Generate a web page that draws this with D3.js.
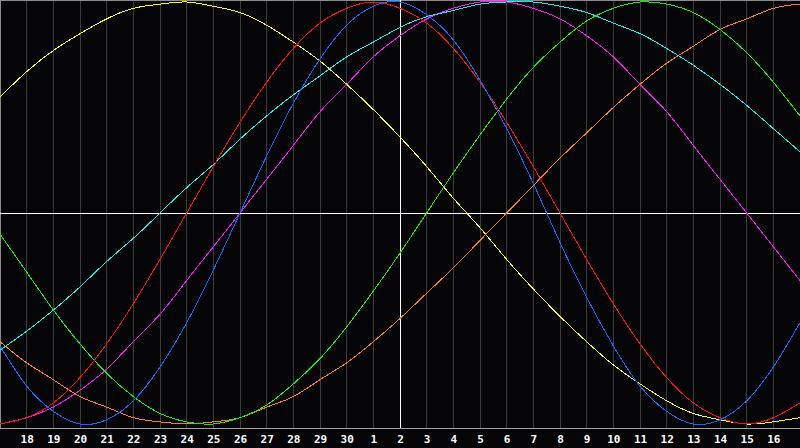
<!DOCTYPE html>
<html><head><meta charset="utf-8">
<script src="https://cdn.jsdelivr.net/npm/d3@7"></script>
<style>
html,body{margin:0;padding:0;background:#050507;}
svg{display:block;}
</style></head>
<body>
<svg id="c" width="800" height="448"></svg>
<script>
// Day labels (x=0 is day 17 of the previous month, x=800 is day 17)
const days = [17,18,19,20,21,22,23,24,25,26,27,28,29,30,1,2,3,4,5,6,7,8,9,10,11,12,13,14,15,16,17];
const todayIndex = 15; // day "2"

// Series values (percent, -100..100), one per day
const physical     = [-63,-82,-94,-100,-98,-89,-73,-52,-27,0,27,52,73,89,98,100,94,82,63,40,14,-14,-40,-63,-82,-94,-100,-98,-89,-73,-52];
const emotional    = [-100,-97,-90,-78,-62,-43,-22,0,22,43,62,78,90,97,100,97,90,78,62,43,22,0,-22,-43,-62,-78,-90,-97,-100,-97,-90];
const intellectual = [-10,-28,-46,-62,-76,-87,-95,-99,-100,-97,-91,-81,-69,-54,-37,-19,0,19,37,54,69,81,91,97,100,99,95,87,76,62,46];
const intuitive    = [-100,-97,-92,-84,-74,-61,-48,-32,-16,0,16,32,48,61,74,84,92,97,100,100,97,92,84,74,61,48,32,16,0,-16,-32];
const aesthetic    = [55,67,77,85,92,97,99,100,98,95,89,81,72,61,49,36,22,7,-7,-22,-36,-49,-61,-72,-81,-89,-95,-98,-100,-99,-97];
const awareness    = [-61,-71,-79,-87,-92,-97,-99,-100,-99,-97,-92,-87,-79,-71,-61,-50,-38,-26,-13,0,13,26,38,50,61,71,79,87,92,97,99];
const spiritual    = [-65,-56,-46,-35,-23,-12,0,12,23,35,46,56,65,74,81,88,93,96,99,100,100,98,95,90,85,78,70,61,51,40,29];

const seriesNames  = ["intuitive","aesthetic","awareness","spiritual","intellectual","emotional","physical"];
const seriesValues = [intuitive, aesthetic, awareness, spiritual, intellectual, emotional, physical];
const seriesColors = ["#ff10ff","#ffff10","#ff8010","#10f0f0","#10f010","#ff1010","#1468ff"];

const W = 800, H = 448;
const plotBottom = 428;
const svg = d3.select("#c");

const x = d3.scaleLinear().domain([0, days.length - 1]).range([0, W]);
const y = d3.scaleLinear().domain([-100, 100]).range([424, 2]);

svg.append("rect").attr("width", W).attr("height", H).attr("fill", "#050507");

// vertical day grid
svg.append("g").selectAll("line").data(d3.range(1, days.length - 1)).join("line")
  .attr("x1", i => Math.floor(x(i)) + 0.5).attr("x2", i => Math.floor(x(i)) + 0.5)
  .attr("y1", 0).attr("y2", plotBottom)
  .attr("stroke", "#3c3c3c").attr("stroke-width", 1)
  .attr("shape-rendering", "crispEdges");

// border (top, left) and axis line
svg.append("line").attr("x1", 0).attr("x2", W).attr("y1", 0.5).attr("y2", 0.5)
  .attr("stroke", "#8c8c8c").attr("shape-rendering", "crispEdges");
svg.append("line").attr("x1", 0.5).attr("x2", 0.5).attr("y1", 0).attr("y2", plotBottom)
  .attr("stroke", "#8c8c8c").attr("shape-rendering", "crispEdges");
svg.append("line").attr("x1", 0).attr("x2", W).attr("y1", plotBottom + 0.5).attr("y2", plotBottom + 0.5)
  .attr("stroke", "#a0a0a0").attr("shape-rendering", "crispEdges");

// center line and today line
svg.append("line").attr("x1", 0).attr("x2", W)
  .attr("y1", Math.floor(y(0)) + 0.5).attr("y2", Math.floor(y(0)) + 0.5)
  .attr("stroke", "#ffffff").attr("shape-rendering", "crispEdges");
svg.append("line")
  .attr("x1", Math.floor(x(todayIndex)) + 0.5).attr("x2", Math.floor(x(todayIndex)) + 0.5)
  .attr("y1", 0).attr("y2", plotBottom)
  .attr("stroke", "#ffffff").attr("shape-rendering", "crispEdges");

// curves
const line = d3.line().x((d, i) => x(i)).y(d => y(d)).curve(d3.curveNatural);
svg.append("g").selectAll("path").data(seriesValues).join("path")
  .attr("d", line)
  .attr("fill", "none")
  .attr("stroke", (d, i) => seriesColors[i])
  .attr("stroke-width", 1)
  .attr("shape-rendering", "crispEdges");

// bottom labels
const axis = d3.axisBottom(x)
  .tickValues(d3.range(1, days.length - 1))
  .tickFormat(i => days[i])
  .tickSize(0).tickPadding(0);
const gAxis = svg.append("g").attr("transform", `translate(0,${plotBottom})`).call(axis);
gAxis.select(".domain").remove();
gAxis.selectAll("text")
  .attr("dy", null).attr("y", 15)
  .attr("fill", "#ffffff")
  .attr("font-family", "'DejaVu Sans Mono', monospace")
  .attr("font-weight", "bold")
  .attr("font-size", 11);
</script>
</body></html>
